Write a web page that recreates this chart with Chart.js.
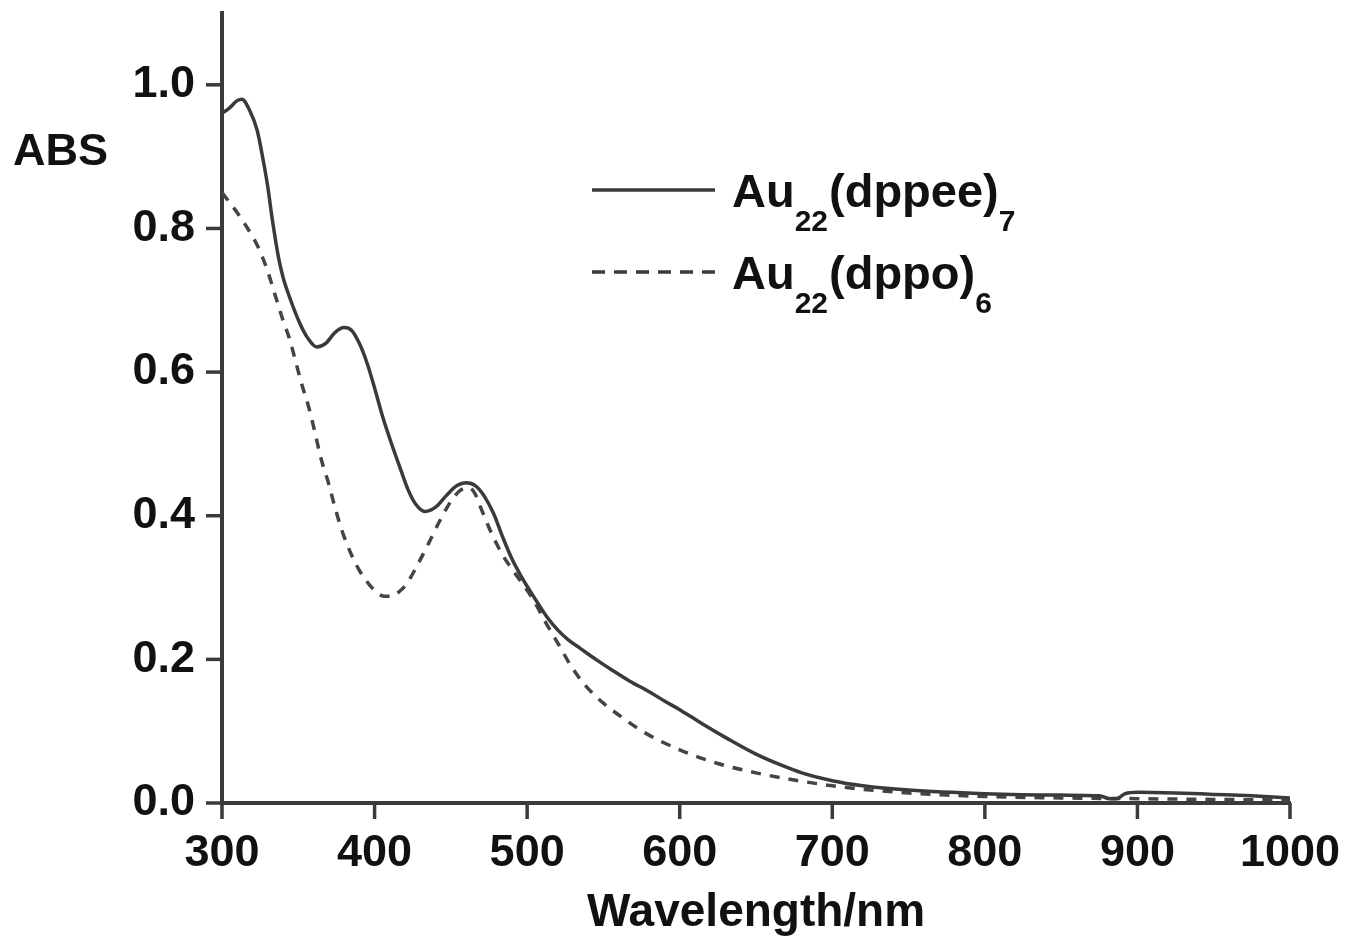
<!DOCTYPE html>
<html>
<head>
<meta charset="utf-8">
<script src="https://cdn.jsdelivr.net/npm/chart.js@4.4.1/dist/chart.umd.min.js"></script>
<style>
html,body{margin:0;padding:0;background:#fff;}
#wrap{width:1347px;height:941px;position:relative;}
</style>
</head>
<body>
<div id="wrap"><canvas id="c" width="1347" height="941"></canvas></div>
<script>
// ---------- data ----------
const wavelengthDppee = [300,305,310,313,318,323,327,330,333,337,340,344,351,356,362,368,374,380,385,390,395,400,405,411,417,422,427,433,440,447,454,460,466,472,478,484,490,496,502,508,513,520,527,535,545,555,567,580,590,600,615,631,650,665,680,700,720,750,800,850,875,882,886,892,900,925,950,975,1000];
const absDppee = [0.960,0.968,0.978,0.980,0.965,0.937,0.895,0.858,0.812,0.760,0.732,0.706,0.668,0.648,0.635,0.640,0.655,0.662,0.658,0.640,0.613,0.578,0.540,0.501,0.465,0.436,0.416,0.406,0.412,0.428,0.442,0.446,0.442,0.427,0.403,0.370,0.340,0.316,0.295,0.275,0.259,0.241,0.227,0.215,0.200,0.186,0.170,0.155,0.142,0.130,0.110,0.090,0.068,0.054,0.042,0.031,0.024,0.018,0.013,0.011,0.010,0.006,0.006,0.013,0.015,0.014,0.012,0.010,0.007];

const wavelengthDppo = [300,305,310,315,320,325,330,335,340,344,348,352,357,361,365,370,374,379,385,390,394,400,406,412,416,421,428,436,443,450,456,462,466,470,477,484,490,495,504,512,520,529,538,550,563,577,600,625,650,675,700,725,750,775,800,850,900,950,1000];
const absDppo = [0.850,0.836,0.822,0.806,0.789,0.768,0.740,0.706,0.672,0.648,0.617,0.585,0.550,0.515,0.479,0.444,0.412,0.377,0.345,0.324,0.311,0.296,0.288,0.288,0.294,0.305,0.331,0.364,0.394,0.420,0.435,0.439,0.430,0.409,0.374,0.345,0.326,0.311,0.283,0.252,0.223,0.190,0.164,0.139,0.118,0.098,0.074,0.055,0.042,0.032,0.024,0.018,0.014,0.011,0.009,0.007,0.006,0.005,0.004];

// legend labels split into [text, isSubscript]
const legendDppee = [["Au",false],["22",true],["(dppee)",false],["7",true]];
const legendDppo  = [["Au",false],["22",true],["(dppo)",false],["6",true]];
const seriesNames = ["Au22(dppee)7","Au22(dppo)6"];

const xTickLabels = [300,400,500,600,700,800,900,1000];
const yTickLabels = [0.0,0.2,0.4,0.6,0.8,1.0];
const xTitle = "Wavelength/nm";
const yTitle = "ABS";

// ---------- style ----------
const FONT = '"Liberation Sans", Arial, Helvetica, sans-serif';
const INK = '#3a3a3a';
const TEXT = '#111';

function toPoints(xs, ys){ return xs.map((x,i)=>({x:x, y:ys[i]})); }

const tickPlugin = {
  id: 'minorTicks',
  afterDraw(chart){
    const ctx = chart.ctx;
    const xs = chart.scales.x, ys = chart.scales.y;
    ctx.save();
    ctx.strokeStyle = INK;
    ctx.lineWidth = 3.5;
    ctx.lineCap = 'butt';
    xs.ticks.forEach(t=>{
      const major = xTickLabels.includes(Math.round(t.value));
      const px = xs.getPixelForValue(t.value);
      const len = major ? 16 : 10;
      ctx.beginPath(); ctx.moveTo(px, ys.bottom); ctx.lineTo(px, ys.bottom + len); ctx.stroke();
    });
    ys.ticks.forEach(t=>{
      const r = Math.round(t.value*10);
      const major = yTickLabels.some(v=>Math.round(v*10)===r);
      const py = ys.getPixelForValue(t.value);
      const len = major ? 16 : 10;
      ctx.beginPath(); ctx.moveTo(xs.left - len, py); ctx.lineTo(xs.left, py); ctx.stroke();
    });
    // y title (horizontal, top-left)
    ctx.fillStyle = TEXT;
    ctx.font = 'bold 45px ' + FONT;
    ctx.textAlign = 'left';
    ctx.textBaseline = 'alphabetic';
    ctx.fillText(yTitle, 13, 165);

    // legend
    const entries = [
      {parts: legendDppee, dash: [], y: 190},
      {parts: legendDppo, dash: [13, 9], y: 272}
    ];
    entries.forEach(e=>{
      ctx.save();
      ctx.strokeStyle = INK;
      ctx.lineWidth = 3.5;
      ctx.setLineDash(e.dash);
      ctx.beginPath(); ctx.moveTo(592, e.y); ctx.lineTo(715, e.y); ctx.stroke();
      ctx.restore();
      let x = 732;
      const base = e.y + 17;
      e.parts.forEach(([txt, sub])=>{
        ctx.font = (sub ? 'bold 30px ' : 'bold 47px ') + FONT;
        ctx.fillStyle = TEXT;
        ctx.fillText(txt, x, sub ? base + 24 : base);
        x += ctx.measureText(txt).width + (sub ? 1 : 0);
      });
    });
    ctx.restore();
  }
};

new Chart(document.getElementById('c'), {
  type: 'line',
  data: {
    datasets: [
      {
        label: seriesNames[0],
        data: toPoints(wavelengthDppee, absDppee),
        borderColor: INK,
        borderWidth: 3.5,
        pointRadius: 0,
        cubicInterpolationMode: 'monotone',
        fill: false
      },
      {
        label: seriesNames[1],
        data: toPoints(wavelengthDppo, absDppo),
        borderColor: '#444',
        borderWidth: 3.5,
        borderDash: [10, 9],
        pointRadius: 0,
        cubicInterpolationMode: 'monotone',
        fill: false
      }
    ]
  },
  options: {
    responsive: false,
    animation: false,
    devicePixelRatio: 1,
    layout: { padding: { left: 0, right: 57, top: 13, bottom: 0 } },
    plugins: { legend: { display: false }, tooltip: { enabled: false }, title: { display: false } },
    scales: {
      x: {
        type: 'linear',
        min: 300, max: 1000,
        grid: { display: false, drawTicks: false },
        border: { display: true, color: INK, width: 4 },
        ticks: {
          stepSize: 50,
          padding: 24,
          color: TEXT,
          font: { family: FONT, size: 45, weight: 'bold' },
          maxRotation: 0,
          autoSkip: false,
          callback: (v)=> xTickLabels.includes(Math.round(v)) ? String(Math.round(v)) : null
        },
        title: {
          display: true,
          text: xTitle,
          color: TEXT,
          font: { family: FONT, size: 46, weight: 'bold' },
          padding: { top: 0, bottom: 0 }
        },
        afterFit: (s)=>{ s.height = 138; s.paddingLeft = 0; s.paddingRight = 0; }
      },
      y: {
        type: 'linear',
        min: 0, max: 1.1,
        grid: { display: false, drawTicks: false },
        border: { display: true, color: INK, width: 4 },
        ticks: {
          stepSize: 0.1,
          padding: 27,
          color: TEXT,
          font: { family: FONT, size: 45, weight: 'bold' },
          autoSkip: false,
          callback: (v)=>{
            const r = Math.round(v*10);
            const hit = yTickLabels.find(t=>Math.round(t*10)===r);
            return hit !== undefined ? hit.toFixed(1) : null;
          }
        },
        afterFit: (s)=>{ s.width = 222; s.paddingTop = 0; s.paddingBottom = 0; }
      }
    }
  },
  plugins: [tickPlugin]
});
</script>
</body>
</html>
